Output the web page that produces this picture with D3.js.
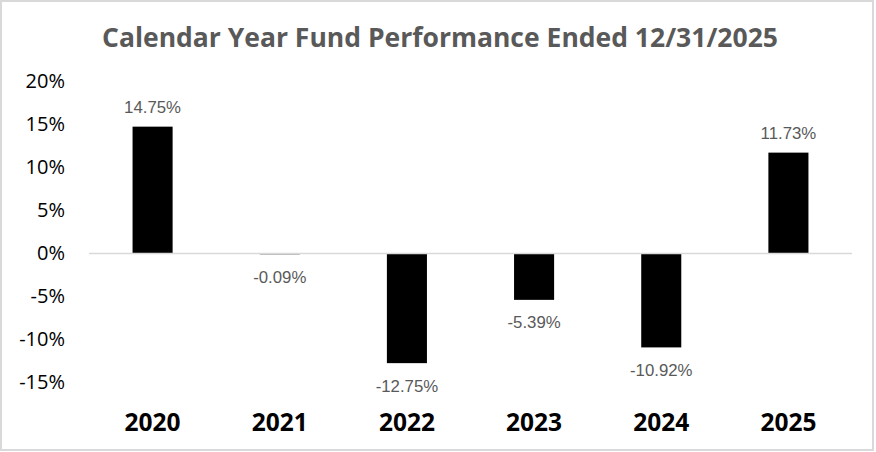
<!DOCTYPE html>
<html>
<head>
<meta charset="utf-8">
<script src="https://cdn.jsdelivr.net/npm/d3@7"></script>
<style>
  body { margin: 0; background: #fff; }
  svg { display: block; }
</style>
</head>
<body>
<svg id="chart" width="876" height="452"></svg>
<script>
var years = ['2020', '2021', '2022', '2023', '2024', '2025'];
var returns = [14.75, -0.09, -12.75, -5.39, -10.92, 11.73];
var yTicks = [20, 15, 10, 5, 0, -5, -10, -15];
var title = 'Calendar Year Fund Performance Ended 12/31/2025';

var svg = d3.select('#chart');

// chart frame
svg.append('rect')
    .attr('x', 1).attr('y', 1)
    .attr('width', 872).attr('height', 449)
    .attr('fill', '#fff')
    .attr('stroke', '#d9d9d9')
    .attr('stroke-width', 2);

svg.append('text')
    .attr('x', 440).attr('y', 47)
    .attr('text-anchor', 'middle')
    .style('font-family', '"Open Sans", sans-serif')
    .style('font-weight', 700)
    .style('font-size', '26.5px')
    .attr('fill', '#595959')
    .text(title);

var x = d3.scaleBand()
    .domain(years)
    .range([89, 852])
    .paddingInner(0.685)
    .paddingOuter(0.3425);

var y = d3.scaleLinear()
    .domain([-15, 20])
    .range([382.5, 81.5]);

// value axis labels only (no line, no ticks)
var yAxis = svg.append('g')
    .attr('transform', 'translate(65,0)')
    .call(d3.axisLeft(y).tickValues(yTicks).tickSize(0).tickPadding(0)
        .tickFormat(function(d) { return d + '%'; }));
yAxis.select('.domain').remove();
yAxis.selectAll('text')
    .style('font-family', '"Open Sans", sans-serif')
    .style('font-size', '20px')
    .attr('fill', '#000');

// bars
svg.append('g').selectAll('rect')
    .data(returns)
    .enter().append('rect')
    .attr('x', function(d, i) { return x(years[i]); })
    .attr('width', x.bandwidth())
    .attr('y', function(d) { return y(Math.max(0, d)); })
    .attr('height', function(d) { return Math.abs(y(d) - y(0)); })
    .attr('fill', '#000');

// zero line
svg.append('line')
    .attr('x1', 89).attr('x2', 852)
    .attr('y1', y(0)).attr('y2', y(0))
    .attr('stroke', '#d9d9d9')
    .attr('stroke-width', 1.5);

// data labels
svg.append('g').selectAll('text')
    .data(returns)
    .enter().append('text')
    .attr('x', function(d, i) { return x(years[i]) + x.bandwidth() / 2; })
    .attr('y', function(d) { return d >= 0 ? y(d) - 19.5 : y(d) + 22.5; })
    .attr('dy', '0.35em')
    .attr('text-anchor', 'middle')
    .style('font-family', '"Liberation Sans", Arial, sans-serif')
    .style('font-size', '16.8px')
    .attr('fill', '#595959')
    .text(function(d) { return d.toFixed(2) + '%'; });

// category labels
var xAxis = svg.append('g')
    .attr('transform', 'translate(0,422)')
    .call(d3.axisBottom(x).tickSize(0).tickPadding(0));
xAxis.select('.domain').remove();
xAxis.selectAll('text')
    .attr('dy', '0.35em')
    .style('font-family', '"Open Sans", sans-serif')
    .style('font-weight', 700)
    .style('font-size', '24.5px')
    .attr('fill', '#000');
</script>
</body>
</html>
